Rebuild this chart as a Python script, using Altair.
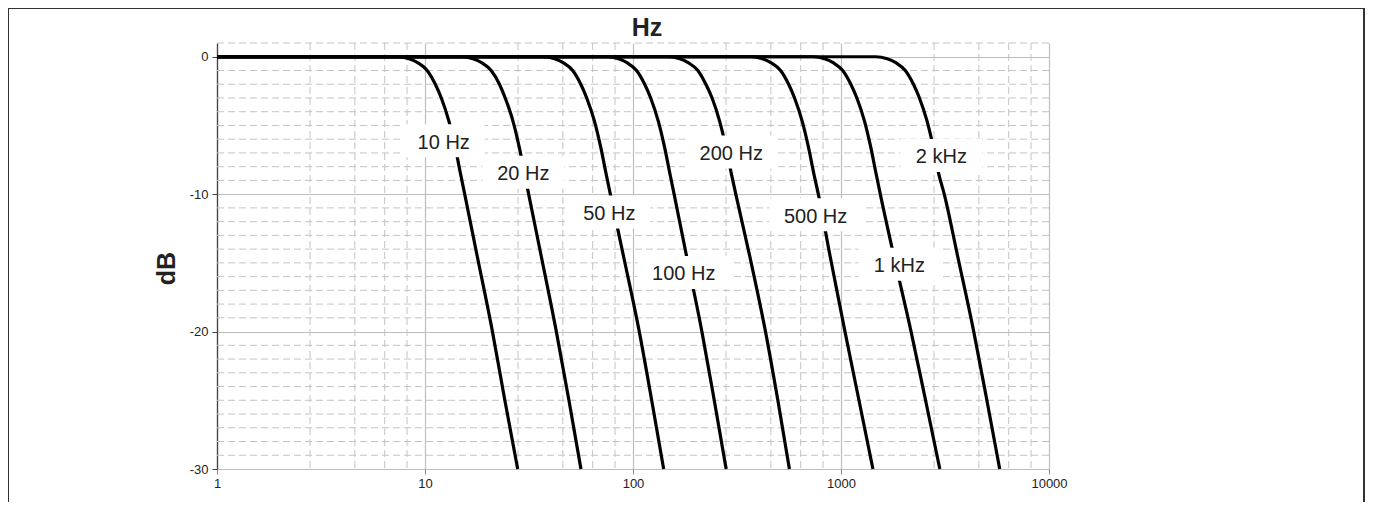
import altair as alt
import pandas as pd

# ---------------- data ----------------
db_levels = [0, 0, -0.15, -0.45, -1.0, -2.0, -3.0, -4.7, -6.6, -8.5, -10, -14.5, -20, -25, -30]

curve_names = ["10 Hz", "20 Hz", "50 Hz", "100 Hz", "200 Hz", "500 Hz", "1 kHz", "2 kHz"]
f_10 = [1, 7.39, 8.38, 9.26, 10.24, 11.21, 11.98, 13.04, 13.98, 14.81, 15.52, 17.82, 21.1, 24.2, 27.9]
f_20 = [1, 15.0, 17.0, 18.8, 20.8, 22.8, 24.3, 26.5, 28.4, 30.1, 31.5, 36.2, 42.8, 49.2, 56.2]
f_50 = [1, 37.0, 42.0, 46.3, 51.3, 56.1, 59.9, 65.3, 70.0, 74.2, 77.8, 90.0, 107.2, 123.0, 140.4]
f_100 = [1, 75, 85.1, 94, 104, 113.8, 121.6, 132.4, 141.9, 150.4, 157.6, 180.9, 214.4, 245.8, 280.5]
f_200 = [1, 148, 168, 185, 205, 224, 240, 261, 280, 297, 312, 364, 433.5, 497, 565]
f_500 = [1, 369, 419, 462, 512, 560, 598, 651, 698, 740, 778, 886, 1045, 1220, 1424]
f_1k = [1, 735, 834, 921, 1019, 1115, 1192, 1298, 1391, 1474, 1545, 1795, 2172, 2550, 2986]
f_2k = [1, 1470, 1668, 1842, 2038, 2230, 2383, 2595, 2781, 2948, 3136, 3636, 4347, 5027, 5794]
curve_freqs = [f_10, f_20, f_50, f_100, f_200, f_500, f_1k, f_2k]

label_text = ["10 Hz", "20 Hz", "50 Hz", "100 Hz", "200 Hz", "500 Hz", "1 kHz", "2 kHz"]
label_freq = [12.3, 29.7, 76.9, 175.3, 296.9, 755, 1909, 3036]
label_db = [-6.25, -8.55, -11.45, -15.84, -7.07, -11.65, -15.25, -7.33]

x_ticks = [1, 10, 100, 1000, 10000]
y_ticks = [0, -10, -20, -30]
minor_x = [2.8, 4.6, 6.4, 8.2, 28, 46, 64, 82, 280, 460, 640, 820, 2800, 4600, 6400, 8200]
minor_y = [1, -1, -2, -3, -4, -5, -6, -7, -8, -9,
           -11, -12, -13, -14, -15, -16, -17, -18, -19,
           -21, -22, -23, -24, -25, -26, -27, -28, -29]

title_x = "Hz"
title_y = "dB"

# ---------------- tables ----------------
rows = []
for name, fr in zip(curve_names, curve_freqs):
    for f, d in zip(fr, db_levels):
        rows.append({"curve": name, "f": f, "db": d})
curves_df = pd.DataFrame(rows)


def box_path(text):
    w = 10.4 * len(text) + 30
    r = w / 2.0
    top = (-16.5 - 2) / r
    bot = (16.5 - 2) / r
    return f"M-1,{top:.4f}L1,{top:.4f}L1,{bot:.4f}L-1,{bot:.4f}Z", w * w


labels_df = pd.DataFrame({"text": label_text, "f": label_freq, "db": label_db})
labels_df["shape"] = [box_path(t)[0] for t in label_text]
labels_df["size"] = [box_path(t)[1] for t in label_text]

FONT = "Liberation Sans"

xs = alt.Scale(type="log", domain=[1, 10000], nice=False)
ys = alt.Scale(domain=[-30, 1], nice=False, zero=False)
xa = alt.Axis(values=x_ticks, labelExpr="datum.value + ''", title=None, grid=True,
              gridColor="#bdbdbd", gridWidth=1.2, domain=False, ticks=True,
              tickColor="#8a8a8a", tickSize=5, labelFont=FONT, labelFontSize=13,
              labelColor="#222", labelPadding=3, labelFlush=False)
ya = alt.Axis(values=y_ticks, labelExpr="datum.value + ''", title=title_y, grid=True,
              gridColor="#bdbdbd", gridWidth=1.2, domain=True, domainColor="#444",
              domainWidth=1.3, tickColor="#444", tickSize=5, labelFont=FONT,
              labelFontSize=13, labelColor="#222", labelPadding=4, labelFlush=False,
              titleFont=FONT, titleFontSize=25, titleFontWeight="bold", titleColor="#222",
              titleAngle=270, titleAlign="center", titleBaseline="middle",
              titleX=-51, titleY=225)


def X(field="f"):
    return alt.X(f"{field}:Q", scale=xs, axis=xa)


def Y(field="db"):
    return alt.Y(f"{field}:Q", scale=ys, axis=ya)


vgrid = alt.Chart(pd.DataFrame({"f": minor_x})).mark_rule(
    color="#c4c4c4", strokeWidth=1, strokeDash=[7, 4]).encode(x=X())
hgrid = alt.Chart(pd.DataFrame({"db": minor_y})).mark_rule(
    color="#c4c4c4", strokeWidth=1, strokeDash=[7, 4]).encode(y=Y())

lines = alt.Chart(curves_df).mark_line(
    color="black", strokeWidth=3.2, interpolate="monotone").encode(
    x=X(), y=Y(), detail="curve:N", order="f:Q")

boxes = alt.Chart(labels_df).mark_point(
    filled=True, color="white", opacity=1, strokeWidth=0).encode(
    x=X(), y=Y(),
    shape=alt.Shape("shape:N", scale=None),
    size=alt.Size("size:Q", scale=None))

texts = alt.Chart(labels_df).mark_text(
    font=FONT, fontSize=20, color="#222", align="center", baseline="middle").encode(
    x=X(), y=Y(), text="text:N")

top_title = alt.Chart(pd.DataFrame({"t": [title_x]})).mark_text(
    font=FONT, fontSize=25, fontWeight="bold", color="#222", align="center",
    baseline="alphabetic").encode(x=alt.value(430), y=alt.value(-7), text="t:N")

frame = alt.Chart(pd.DataFrame({"a": [0]})).mark_rect(
    fillOpacity=0, stroke="#333", strokeWidth=2).encode(
    x=alt.value(-209), x2=alt.value(1147), y=alt.value(-35), y2=alt.value(480))

chart = alt.layer(vgrid, hgrid, lines, boxes, texts, top_title, frame).properties(
    width=832, height=426,
    autosize=alt.AutoSizeParams(type="none"),
    padding={"left": 209, "top": 35, "right": 318, "bottom": 33},
).configure_view(strokeWidth=0)

chart.save("out.html", embed_options={"renderer": "svg", "actions": False})
